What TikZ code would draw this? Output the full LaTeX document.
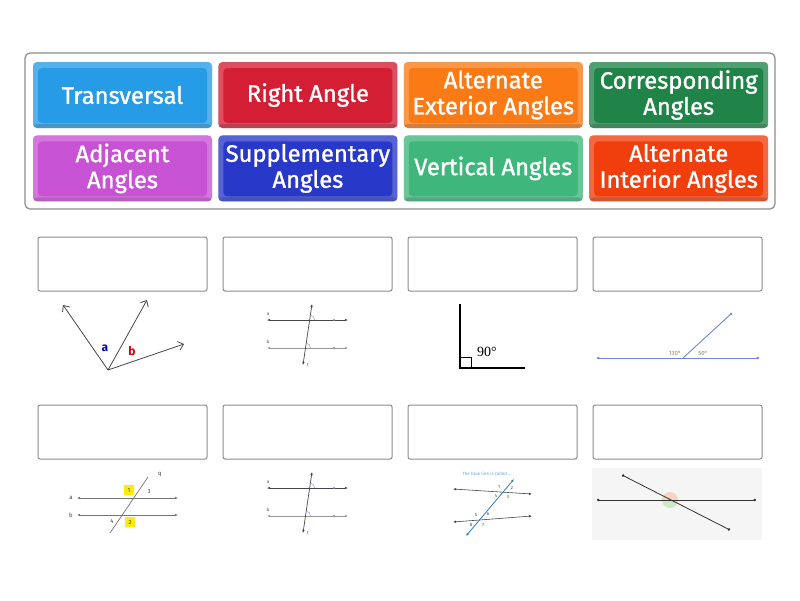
\documentclass[tikz,border=0pt]{standalone}
\usepackage{fontspec}
\setmainfont{Fira Sans}
\newfontfamily\knopfschrift{Fira Sans}[FakeBold=1.2]
\newfontfamily\serifschrift{Liberation Serif}
\usepackage{tikz}
\usetikzlibrary{positioning,arrows.meta}
\definecolor{hellblau}{RGB}{38,156,230}
\definecolor{rot}{RGB}{212,30,52}
\definecolor{orange}{RGB}{250,122,22}
\definecolor{dunkelgruen}{RGB}{32,132,72}
\definecolor{violett}{RGB}{200,82,212}
\definecolor{koenigsblau}{RGB}{40,56,200}
\definecolor{mintgruen}{RGB}{62,182,124}
\definecolor{rotorange}{RGB}{240,62,12}
\definecolor{rahmen}{RGB}{140,140,140}
\definecolor{linie}{RGB}{70,70,70}
\definecolor{strahlblau}{RGB}{112,134,214}
\definecolor{querblau}{RGB}{44,122,204}
\definecolor{winkelrot}{RGB}{248,212,196}
\definecolor{winkelgruen}{RGB}{206,232,196}

\begin{document}
\begin{tikzpicture}[x=1pt,y=-1pt,node distance=6pt,
	knopf/.style={rectangle, rounded corners=4pt, fill=#1, minimum width=179pt, minimum height=66pt,
		inner sep=0pt, text=white, align=center, font=\knopfschrift\fontsize{23.8}{26}\selectfont,
		path picture={
			\fill[white,opacity=.22] (path picture bounding box.south west) rectangle (path picture bounding box.north east);
			\fill[#1] ([xshift=5pt,yshift=5pt]path picture bounding box.south west) rectangle ([xshift=-5pt,yshift=-6pt]path picture bounding box.north east);
			\fill[black,opacity=.16] (path picture bounding box.south west) rectangle ([yshift=4pt]path picture bounding box.south east);}},
	antwort/.style={draw=rahmen, line width=1pt, rounded corners=2pt, fill=white, minimum width=169pt, minimum height=54pt, inner sep=0pt},
	pfeil/.style={arrows={Latex[length=3pt,width=2.5pt]-Latex[length=3pt,width=2.5pt]}},
	punkt/.style={arrows={Circle[length=2.5pt]-Circle[length=2.5pt]}},
	klein/.style={font=\fontsize{6}{7}\selectfont, text=linie, inner sep=0pt}]
		\useasboundingbox[fill=white] (0,0) rectangle (800,600);
		
		% Kartenfeld
		\draw[rahmen, line width=1.2pt, rounded corners=5pt] (25,53) rectangle (775,209);
		
		\node[knopf=hellblau] (transversal) at (122.5,95) {Transversal};
		\node[knopf=rot, right=6pt of transversal] (rechter) {Right Angle};
		\node[knopf=orange, right=6pt of rechter] (wechselaussen) {Alternate\\Exterior Angles};
		\node[knopf=dunkelgruen, right=6pt of wechselaussen] (stufen) {Corresponding\\Angles};
		\node[knopf=violett, below=7pt of transversal] (neben) {Adjacent\\Angles};
		\node[knopf=koenigsblau, right=6pt of neben] (supplement) {Supplementary\\Angles};
		\node[knopf=mintgruen, right=6pt of supplement] (scheitel) {Vertical Angles};
		\node[knopf=rotorange, right=6pt of scheitel] (wechselinnen) {Alternate\\Interior Angles};
		
		% Antwortfelder
		\node[antwort] (feld1) at (122.5,264) {};
		\node[antwort, right=15pt of feld1] (feld2) {};
		\node[antwort, right=15pt of feld2] (feld3) {};
		\node[antwort, right=15pt of feld3] (feld4) {};
		\node[antwort] (feld5) at (122.5,432) {};
		\node[antwort, right=15pt of feld5] (feld6) {};
		\node[antwort, right=15pt of feld6] (feld7) {};
		\node[antwort, right=15pt of feld7] (feld8) {};
		
		% Bild 1: Nebenwinkel
		\coordinate (scheitelpunkt) at (108,370);
		\coordinate (strahl1) at (63,305);
		\coordinate (strahl2) at (147,300);
		\coordinate (strahl3) at (184,344);
		\foreach \s in {strahl1,strahl2,strahl3}
			\draw[linie, line width=.8pt, -{Straight Barb[length=5pt,width=9pt]}] (scheitelpunkt) -- (\s);
		\node[text=blue!80!black, font=\bfseries\fontsize{12}{12}\selectfont] (winkela) at (105,348) {a};
		\node[text=red!85!black, font=\bfseries\fontsize{12}{12}\selectfont] (winkelb) at (132,351) {b};
		
		% Bild 2 und 6: Parallelen mit Transversale
		\foreach \dy in {0,168} {
			\coordinate (pa) at (267,320+\dy);
			\coordinate (pa') at (348,320+\dy);
			\coordinate (pb) at (267,348+\dy);
			\coordinate (pb') at (348,348+\dy);
			\coordinate (tq) at (312,304+\dy);
			\coordinate (tq') at (303,365+\dy);
			\draw[linie, pfeil, line width=.7pt] (pa) -- (pa');
			\draw[gray!80, pfeil, line width=.7pt] (pb) -- (pb');
			\draw[linie, pfeil, line width=.7pt] (tq') -- (tq);
			\draw[blue!50] (314.6,320+\dy) arc[start angle=0, end angle=82, radius=5pt];
			\draw[blue!50] (310.5,348+\dy) arc[start angle=0, end angle=82, radius=5pt];
			\fill[blue!50] (334,320+\dy) circle[radius=1.1pt] (334,348+\dy) circle[radius=1.1pt];
			\node[klein, font=\fontsize{4.5}{5}\selectfont] at (268,314+\dy) {a};
			\node[klein, font=\fontsize{4.5}{5}\selectfont] at (268,342+\dy) {b};
			\node[klein, font=\fontsize{4.5}{5}\selectfont] at (308,365+\dy) {t};
		}
		
		% Bild 3: rechter Winkel
		\coordinate (ecke) at (460,368);
		\draw[black, line width=1.4pt] (460,304) -- (ecke) -- (525,368);
		\draw[black, line width=.9pt] (460,357) -| (471,368);
		\node[font=\serifschrift\fontsize{14}{14}\selectfont, inner sep=0pt] (grad) at (487,352) {90°};
		
		% Bild 4: Supplementwinkel
		\coordinate (sl) at (597,358);
		\coordinate (sr) at (759,358);
		\coordinate (sm) at (683,358);
		\coordinate (so) at (732,313);
		\draw[strahlblau, punkt, line width=.9pt] (sl) -- (sr);
		\draw[strahlblau, arrows={-Circle[length=2.5pt]}, line width=.9pt] (sm) -- (so);
		\node[klein, text=gray, font=\fontsize{6}{6}\selectfont] at (675,353) {130°};
		\node[klein, text=gray, font=\fontsize{6}{6}\selectfont] at (703,353) {50°};
		
		% Bild 5: Wechselwinkel
		\draw[gray!90!black, pfeil, line width=.6pt] (77,498) -- (178,498);
		\draw[gray!90!black, pfeil, line width=.6pt] (77,515) -- (178,515);
		\draw[gray!90!black, line width=.7pt] (110,533) -- (148,477);
		\fill[yellow!95!orange] (124,485) rectangle (134,495) (125,517) rectangle (135,527);
		\node[klein] at (71,498) {a};
		\node[klein] at (71,515) {b};
		\node[klein] at (160,475) {q};
		\node[klein] at (129,490) {1};
		\node[klein] at (130,522) {2};
		\node[klein] at (149,491) {3};
		\node[klein] at (112,521) {4};
		
		% Bild 7: nummerierte Winkel
		\node[klein, text=querblau!70, font=\fontsize{4.5}{5}\selectfont] at (487,474) {The blue line is called ...};
		\draw[linie, pfeil, line width=.6pt] (532,494) -- (453,489);
		\draw[linie, pfeil, line width=.6pt] (532,516) -- (453,522);
		\draw[querblau, pfeil, line width=.8pt] (466,536) -- (514,479);
		\foreach \z/\px/\py in {1/499/487,2/512/488,4/496/496,3/508/497,5/476/515,6/488/514,8/471/525,7/483/525}
			\node[klein, font=\fontsize{4.5}{5}\selectfont] at (\px,\py) {\z};
		
		% Bild 8: Scheitelwinkel
		\fill[gray!8] (592,468) rectangle (762,540);
		\fill[winkelrot] (678,500) arc[start angle=0, end angle=180, radius=8pt] -- cycle;
		\fill[winkelgruen] (662,500) arc[start angle=180, end angle=360, radius=8pt] -- cycle;
		\draw[black!80, punkt, line width=.8pt] (597,500) -- (756,500);
		\draw[black!80, punkt, line width=.8pt] (622,475) -- (730,530);
\end{tikzpicture}
\end{document}
